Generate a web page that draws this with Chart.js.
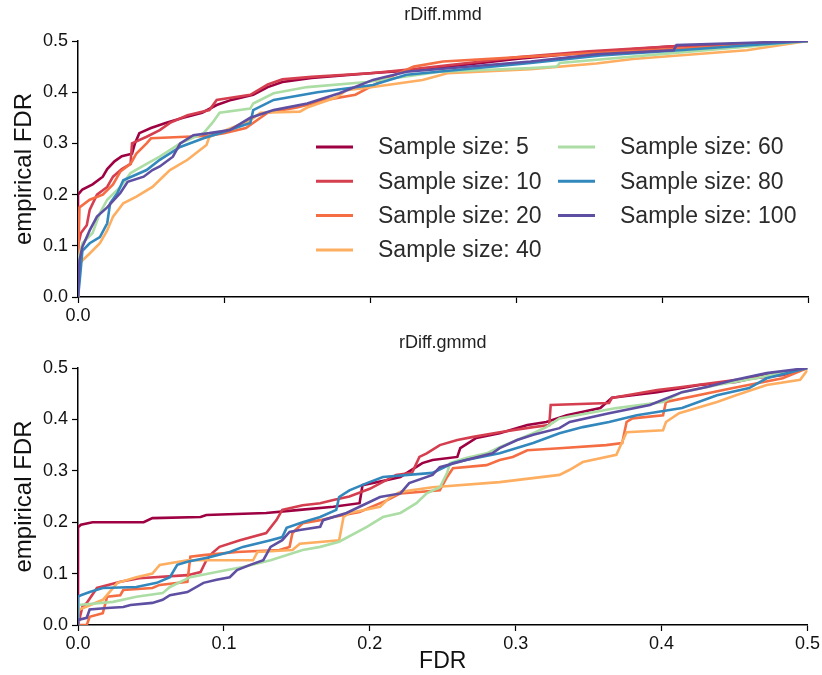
<!DOCTYPE html>
<html>
<head>
<meta charset="utf-8">
<script src="https://cdn.jsdelivr.net/npm/chart.js@4.4.1/dist/chart.umd.min.js"></script>
<style>
  html, body { margin: 0; padding: 0; background: #fff; }
  #wrap { width: 822px; height: 675px; position: relative; }
  canvas { display: block; }
</style>
</head>
<body>
<div id="wrap">
  <canvas id="topChart" width="822" height="330"></canvas>
  <canvas id="bottomChart" width="822" height="345"></canvas>
</div>
<script>
// x/y ticks
const fdrTicks = [0, 0.1, 0.2, 0.3, 0.4, 0.5];
const sampleSizes = [5, 10, 20, 40, 60, 80, 100];
const lineColors = ["#9e0142", "#d53e4f", "#f46d43", "#fdae61", "#abdda4", "#3288bd", "#5e4fa2"];

// rDiff.mmd : [nominal FDR, empirical FDR]
const mmd5 = [[0,0],[0,0.2],[0.003,0.21],[0.01,0.22],[0.017,0.235],[0.02,0.25],[0.025,0.265],[0.03,0.275],[0.037,0.28],[0.039,0.3],[0.042,0.32],[0.05,0.33],[0.06,0.34],[0.072,0.35],[0.085,0.36],[0.095,0.375],[0.105,0.385],[0.12,0.395],[0.13,0.41],[0.14,0.42],[0.16,0.428],[0.2,0.437],[0.23,0.443],[0.27,0.455],[0.3,0.465],[0.35,0.478],[0.41,0.49],[0.46,0.495],[0.5,0.5]];
const mmd10 = [[0,0],[0,0.1],[0.002,0.125],[0.006,0.14],[0.008,0.17],[0.013,0.2],[0.02,0.215],[0.024,0.235],[0.03,0.25],[0.036,0.26],[0.037,0.3],[0.047,0.313],[0.056,0.326],[0.063,0.34],[0.075,0.355],[0.09,0.365],[0.095,0.385],[0.118,0.395],[0.13,0.415],[0.14,0.425],[0.16,0.43],[0.2,0.437],[0.23,0.445],[0.27,0.458],[0.3,0.468],[0.35,0.48],[0.41,0.49],[0.46,0.495],[0.5,0.5]];
const mmd20 = [[0,0],[0,0.06],[0.001,0.175],[0.008,0.19],[0.017,0.2],[0.024,0.22],[0.029,0.245],[0.036,0.26],[0.04,0.28],[0.047,0.3],[0.05,0.31],[0.09,0.315],[0.1,0.32],[0.115,0.33],[0.125,0.35],[0.13,0.36],[0.15,0.37],[0.17,0.385],[0.19,0.395],[0.21,0.425],[0.23,0.45],[0.25,0.46],[0.3,0.468],[0.35,0.476],[0.41,0.485],[0.46,0.492],[0.5,0.5]];
const mmd40 = [[0,0],[0,0.05],[0.001,0.066],[0.008,0.085],[0.015,0.105],[0.02,0.13],[0.024,0.157],[0.031,0.183],[0.04,0.196],[0.051,0.215],[0.063,0.248],[0.075,0.268],[0.088,0.297],[0.09,0.313],[0.105,0.33],[0.118,0.345],[0.125,0.36],[0.152,0.362],[0.157,0.37],[0.177,0.39],[0.184,0.404],[0.202,0.41],[0.236,0.424],[0.253,0.437],[0.31,0.445],[0.355,0.456],[0.38,0.465],[0.458,0.482],[0.5,0.5]];
const mmd60 = [[0,0],[0,0.07],[0.003,0.105],[0.01,0.125],[0.015,0.164],[0.02,0.19],[0.029,0.215],[0.036,0.242],[0.047,0.26],[0.056,0.274],[0.07,0.3],[0.086,0.32],[0.092,0.34],[0.097,0.36],[0.118,0.368],[0.12,0.378],[0.134,0.398],[0.157,0.41],[0.198,0.42],[0.248,0.44],[0.31,0.447],[0.328,0.45],[0.33,0.457],[0.462,0.49],[0.5,0.5]];
const mmd80 = [[0,0],[0.001,0.027],[0.003,0.09],[0.008,0.105],[0.015,0.117],[0.02,0.144],[0.022,0.183],[0.027,0.203],[0.031,0.228],[0.047,0.248],[0.056,0.268],[0.07,0.293],[0.086,0.31],[0.097,0.32],[0.118,0.34],[0.12,0.365],[0.134,0.385],[0.164,0.4],[0.202,0.414],[0.225,0.434],[0.31,0.457],[0.358,0.472],[0.412,0.482],[0.5,0.5]];
const mmd100 = [[0,0],[0.001,0.072],[0.003,0.098],[0.008,0.13],[0.013,0.157],[0.02,0.175],[0.029,0.203],[0.034,0.225],[0.045,0.235],[0.051,0.248],[0.056,0.255],[0.065,0.274],[0.07,0.3],[0.079,0.316],[0.09,0.32],[0.104,0.326],[0.118,0.35],[0.134,0.365],[0.157,0.378],[0.179,0.398],[0.202,0.424],[0.225,0.44],[0.31,0.46],[0.355,0.474],[0.408,0.482],[0.41,0.492],[0.5,0.5]];

// rDiff.gmmd
const gmmd5 = [[0,0],[0,0.19],[0.002,0.195],[0.01,0.2],[0.045,0.2],[0.051,0.208],[0.084,0.21],[0.088,0.214],[0.129,0.218],[0.152,0.224],[0.175,0.23],[0.193,0.237],[0.195,0.272],[0.212,0.282],[0.221,0.288],[0.236,0.315],[0.243,0.321],[0.26,0.327],[0.262,0.344],[0.273,0.364],[0.289,0.373],[0.308,0.389],[0.321,0.395],[0.335,0.408],[0.358,0.422],[0.366,0.442],[0.397,0.453],[0.426,0.467],[0.451,0.473],[0.472,0.486],[0.5,0.5]];
const gmmd10 = [[0,0],[0.003,0.035],[0.006,0.043],[0.013,0.072],[0.029,0.084],[0.042,0.091],[0.075,0.097],[0.084,0.103],[0.088,0.126],[0.092,0.14],[0.097,0.152],[0.111,0.165],[0.129,0.179],[0.136,0.204],[0.14,0.224],[0.154,0.233],[0.166,0.237],[0.175,0.243],[0.186,0.25],[0.2,0.265],[0.218,0.292],[0.229,0.296],[0.234,0.327],[0.239,0.334],[0.248,0.35],[0.26,0.36],[0.271,0.366],[0.289,0.375],[0.312,0.385],[0.323,0.389],[0.324,0.428],[0.364,0.432],[0.366,0.442],[0.397,0.457],[0.414,0.463],[0.449,0.476],[0.483,0.486],[0.5,0.5]];
const gmmd20 = [[0,0],[0.006,0],[0.008,0.016],[0.017,0.023],[0.02,0.055],[0.029,0.058],[0.031,0.068],[0.051,0.072],[0.056,0.078],[0.075,0.084],[0.077,0.133],[0.086,0.136],[0.109,0.142],[0.138,0.146],[0.145,0.152],[0.147,0.179],[0.154,0.198],[0.166,0.204],[0.175,0.21],[0.193,0.22],[0.212,0.243],[0.221,0.256],[0.248,0.262],[0.253,0.288],[0.257,0.305],[0.28,0.311],[0.289,0.321],[0.298,0.327],[0.308,0.34],[0.33,0.344],[0.362,0.35],[0.373,0.354],[0.376,0.395],[0.38,0.402],[0.401,0.408],[0.403,0.434],[0.449,0.461],[0.483,0.48],[0.5,0.5]];
const gmmd40 = [[0,0],[0,0.025],[0.001,0.03],[0.017,0.049],[0.027,0.082],[0.04,0.093],[0.051,0.1],[0.056,0.117],[0.075,0.126],[0.12,0.126],[0.123,0.142],[0.147,0.146],[0.152,0.158],[0.179,0.165],[0.182,0.21],[0.186,0.218],[0.207,0.23],[0.214,0.249],[0.221,0.259],[0.243,0.268],[0.289,0.278],[0.33,0.292],[0.337,0.302],[0.346,0.317],[0.369,0.331],[0.376,0.375],[0.401,0.379],[0.403,0.395],[0.412,0.412],[0.438,0.434],[0.451,0.447],[0.472,0.467],[0.495,0.477],[0.5,0.496]];
const gmmd60 = [[0,0],[0,0.039],[0.024,0.045],[0.04,0.055],[0.058,0.062],[0.063,0.074],[0.077,0.093],[0.095,0.103],[0.113,0.113],[0.132,0.126],[0.154,0.146],[0.166,0.152],[0.179,0.162],[0.198,0.191],[0.209,0.21],[0.221,0.218],[0.232,0.237],[0.239,0.256],[0.248,0.268],[0.253,0.296],[0.255,0.315],[0.266,0.325],[0.28,0.334],[0.289,0.346],[0.312,0.373],[0.321,0.385],[0.33,0.402],[0.369,0.422],[0.401,0.434],[0.414,0.453],[0.438,0.467],[0.465,0.48],[0.483,0.492],[0.5,0.5]];
const gmmd80 = [[0,0],[0,0.055],[0.002,0.058],[0.008,0.064],[0.017,0.072],[0.04,0.074],[0.054,0.082],[0.063,0.093],[0.068,0.117],[0.075,0.123],[0.09,0.132],[0.104,0.142],[0.113,0.152],[0.132,0.165],[0.14,0.171],[0.143,0.189],[0.154,0.2],[0.166,0.21],[0.177,0.224],[0.179,0.249],[0.186,0.262],[0.198,0.276],[0.209,0.288],[0.243,0.296],[0.257,0.315],[0.266,0.321],[0.289,0.334],[0.312,0.354],[0.33,0.373],[0.346,0.385],[0.364,0.395],[0.383,0.408],[0.414,0.422],[0.438,0.447],[0.46,0.461],[0.472,0.48],[0.5,0.5]];
const gmmd100 = [[0,0],[0,0.01],[0.006,0.014],[0.008,0.03],[0.02,0.033],[0.031,0.035],[0.036,0.039],[0.051,0.043],[0.058,0.049],[0.063,0.058],[0.075,0.064],[0.086,0.082],[0.095,0.088],[0.104,0.093],[0.109,0.107],[0.118,0.117],[0.127,0.126],[0.132,0.152],[0.14,0.165],[0.145,0.181],[0.152,0.185],[0.166,0.191],[0.168,0.204],[0.184,0.218],[0.193,0.23],[0.207,0.249],[0.221,0.256],[0.227,0.276],[0.243,0.292],[0.248,0.307],[0.266,0.321],[0.284,0.334],[0.289,0.344],[0.301,0.36],[0.312,0.37],[0.33,0.383],[0.337,0.395],[0.364,0.412],[0.392,0.428],[0.414,0.453],[0.431,0.463],[0.449,0.476],[0.472,0.49],[0.5,0.5]];

const mmdSeries = [mmd5, mmd10, mmd20, mmd40, mmd60, mmd80, mmd100];
const gmmdSeries = [gmmd5, gmmd10, gmmd20, gmmd40, gmmd60, gmmd80, gmmd100];

const FONT = "'Liberation Sans', Arial, Helvetica, sans-serif";

function makeDatasets(series) {
  return series.map((pts, i) => ({
    label: "Sample size: " + sampleSizes[i],
    data: pts.map(([x, y]) => ({ x, y })),
    borderColor: lineColors[i],
    backgroundColor: lineColors[i],
    borderWidth: 2.6,
    pointRadius: 0,
    tension: 0,
    fill: false,
    order: series.length - i
  }));
}

// legend drawn inside the plot area, two columns
const insideLegend = {
  id: "insideLegend",
  afterDraw(chart, args, opts) {
    if (!opts.show) return;
    const ctx = chart.ctx;
    const area = chart.chartArea;
    const colX = [area.left + 238, area.left + 480];
    const rowY0 = area.top + 106, rowH = 34.3;
    ctx.save();
    ctx.font = "23px " + FONT;
    ctx.textBaseline = "middle";
    ctx.textAlign = "left";
    chart.data.datasets.forEach((ds, i) => {
      const col = i < 4 ? 0 : 1;
      const row = i < 4 ? i : i - 4;
      const x = colX[col], y = rowY0 + row * rowH;
      ctx.strokeStyle = ds.borderColor;
      ctx.lineWidth = 3;
      ctx.beginPath();
      ctx.moveTo(x, y);
      ctx.lineTo(x + 37, y);
      ctx.stroke();
      ctx.fillStyle = "#2b2b2b";
      ctx.fillText(ds.label, x + 62, y + 1);
    });
    ctx.restore();
  }
};

// subplot title centred over the plot area
const panelTitle = {
  id: "panelTitle",
  afterDraw(chart, args, opts) {
    const ctx = chart.ctx;
    const area = chart.chartArea;
    ctx.save();
    ctx.font = "18px " + FONT;
    ctx.fillStyle = "#222";
    ctx.textAlign = "center";
    ctx.textBaseline = "middle";
    ctx.fillText(opts.text, (area.left + area.right) / 2, opts.y);
    ctx.restore();
  }
};

function makeChart(id, title, series, opts) {
  const ctx = document.getElementById(id).getContext("2d");
  return new Chart(ctx, {
    type: "line",
    data: { datasets: makeDatasets(series) },
    plugins: [insideLegend, panelTitle],
    options: {
      responsive: false,
      animation: false,
      layout: { padding: { left: 0, right: 14, top: opts.top, bottom: 0 } },
      plugins: {
        legend: { display: false },
        tooltip: { enabled: false },
        title: { display: false },
        panelTitle: { text: title, y: opts.titleY },
        insideLegend: { show: opts.legend }
      },
      scales: {
        x: {
          type: "linear",
          min: 0,
          max: 0.5,
          afterBuildTicks: scale => { scale.ticks = fdrTicks.map(v => ({ value: v })); },
          afterFit: scale => { scale.height = opts.xHeight; },
          border: { display: true, color: "#000", width: 1.5 },
          grid: { display: true, drawOnChartArea: false, drawTicks: true, tickLength: 6, tickWidth: 1.2, tickColor: "#000" },
          ticks: {
            color: "#111",
            padding: 2,
            maxRotation: 0,
            font: { family: FONT, size: 18 },
            callback: v => (opts.allX || v === 0) ? v.toFixed(1) : ""
          },
          title: {
            display: opts.xTitle,
            text: "FDR",
            color: "#111",
            font: { family: FONT, size: 23 },
            padding: { top: 0, bottom: 0 }
          }
        },
        y: {
          type: "linear",
          min: 0,
          max: 0.5,
          afterBuildTicks: scale => { scale.ticks = fdrTicks.map(v => ({ value: v })); },
          afterFit: scale => { scale.width = 78; },
          border: { display: true, color: "#000", width: 1.5 },
          grid: { display: true, drawOnChartArea: false, drawTicks: true, tickLength: 6, tickWidth: 1.2, tickColor: "#000" },
          ticks: {
            color: "#111",
            padding: 4,
            font: { family: FONT, size: 18 },
            callback: v => v.toFixed(1)
          },
          title: {
            display: true,
            text: "empirical FDR",
            color: "#111",
            font: { family: FONT, size: 24 },
            padding: { top: 10, bottom: 0 }
          }
        }
      }
    }
  });
}

makeChart("topChart", "rDiff.mmd", mmdSeries,
  { top: 41, titleY: 15, xHeight: 33, allX: false, xTitle: false, legend: true });
makeChart("bottomChart", "rDiff.gmmd", gmmdSeries,
  { top: 38, titleY: 13, xHeight: 50, allX: true, xTitle: true, legend: false });
</script>
</body>
</html>
